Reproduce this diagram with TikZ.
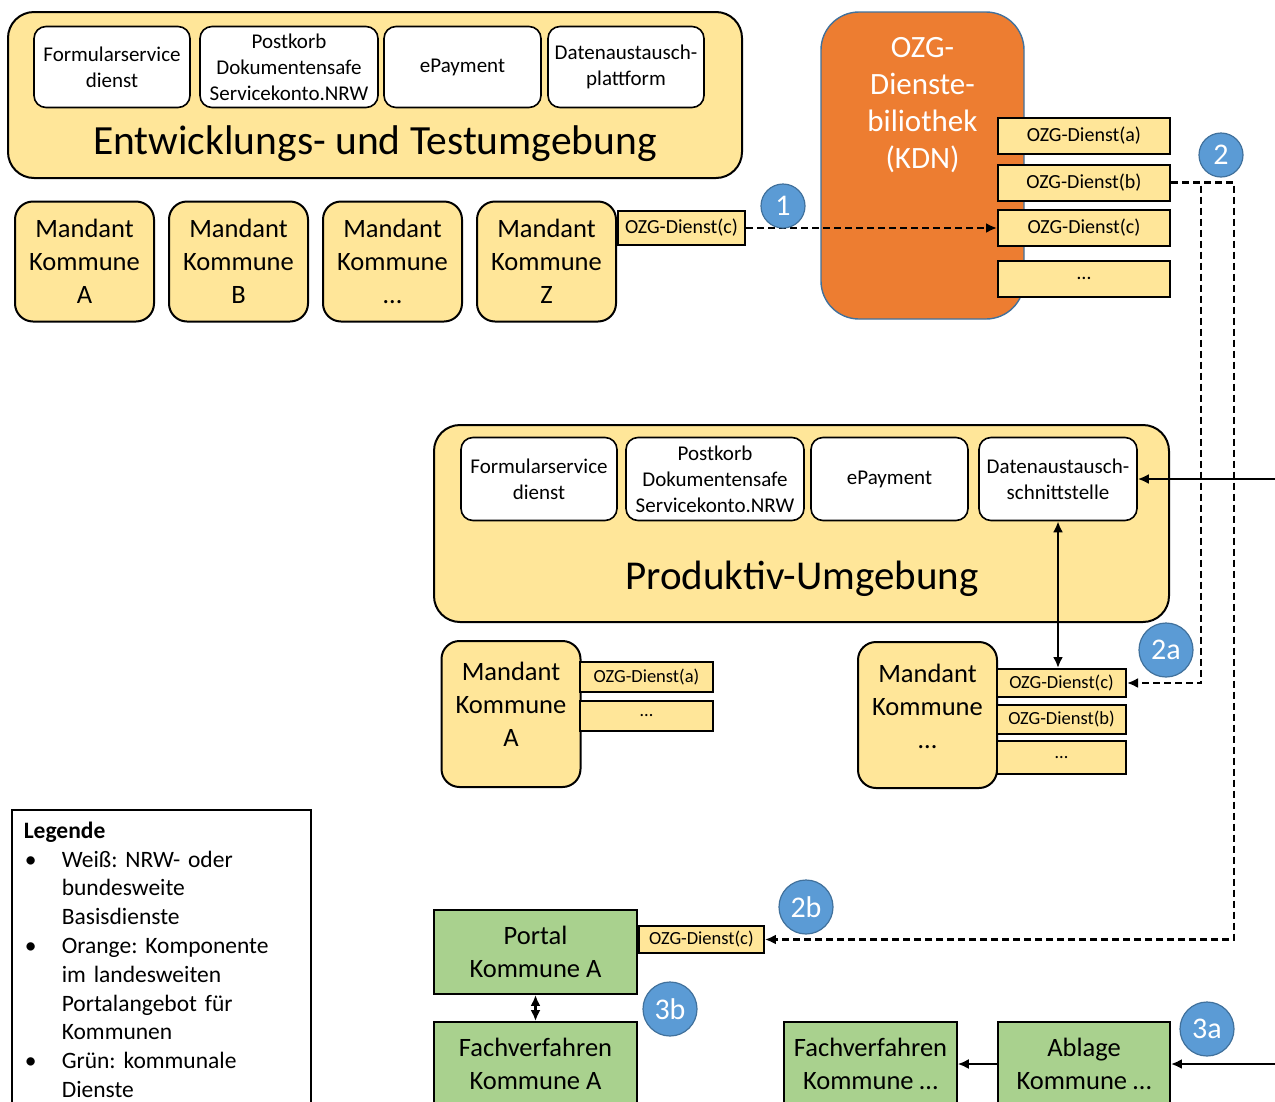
\documentclass[tikz,border=0pt]{standalone}
\usepackage{fontspec}
\setmainfont{Carlito}
\usepackage{tikz}
\usetikzlibrary{arrows.meta,positioning}
\definecolor{ozgyellow}{RGB}{255,230,153}
\definecolor{kdnorange}{RGB}{237,125,49}
\definecolor{kdnedge}{RGB}{65,113,156}
\definecolor{kommgreen}{RGB}{169,209,142}
\definecolor{stepblue}{RGB}{91,155,213}
\newcommand{\legitem}[1]{\makebox[38pt][l]{\hspace{1pt}\textbullet}#1}
\newcommand{\legcont}[1]{\hspace*{38pt}#1}
\tikzset{
  envbox/.style={draw=black, line width=2pt, rounded corners=26pt, fill=ozgyellow, inner sep=0pt},
  envtitle/.style={font=\fontsize{41.5}{48}\selectfont, inner sep=0pt, anchor=base},
  basisbox/.style={draw=black, line width=1.6pt, rounded corners=12pt, fill=white, align=center,
    inner sep=0pt, minimum height=81pt, font=\fontsize{21}{26}\selectfont},
  mandbox/.style={draw=black, line width=2pt, rounded corners=18pt, fill=ozgyellow, align=center,
    inner sep=0pt, minimum width=139pt, font=\fontsize{26.5}{33}\selectfont},
  mandtext/.style={align=center, inner sep=0pt, font=\fontsize{26.5}{33}\selectfont},
  dienstbox/.style={draw=black, line width=2pt, fill=ozgyellow, inner sep=0pt, font=\fontsize{20}{24}\selectfont},
  dienstsmall/.style={dienstbox, font=\fontsize{18.5}{22}\selectfont},
  kdnbox/.style={draw=kdnedge, line width=1.4pt, rounded corners=38pt, fill=kdnorange, inner sep=0pt},
  kommbox/.style={draw=black, line width=1.8pt, fill=kommgreen, align=center, inner sep=0pt,
    minimum height=84pt, font=\fontsize{26.5}{33}\selectfont},
  stepmark/.style={circle, fill=stepblue, draw=kdnedge, line width=1.2pt, text=white, inner sep=0pt,
    minimum size=44pt, font=\fontsize{30}{30}\selectfont},
  legendbox/.style={draw=black, line width=1.6pt, fill=white, align=left, inner xsep=12pt, inner ysep=12pt,
    text width=275pt, font=\fontsize{23.5}{28.8}\selectfont},
  flow/.style={-{Latex[length=11pt,width=10pt]}, line width=2.2pt},
  twoflow/.style={{Latex[length=11pt,width=10pt]}-{Latex[length=11pt,width=10pt]}, line width=2.2pt},
  dashedflow/.style={flow, dash pattern=on 7pt off 4pt}
}
\frenchspacing
\begin{document}
\begin{tikzpicture}[x=1pt, y=-1pt]
\useasboundingbox (0,0) rectangle (1275,1101);
\clip (0,0) rectangle (1275,1101);

\node[envbox, minimum width=734pt, minimum height=166pt] (dev) at (375,95) {};
\node[envtitle] (devtitle) at (375,154) {Entwicklungs- und Testumgebung};
\node[basisbox, minimum width=156pt] (devform) at (112,67) {Formularservice\\dienst};
\node[basisbox, minimum width=178pt] (devpost) at (289,67) {Postkorb\\Dokumentensafe\\Servicekonto.NRW};
\node[basisbox, minimum width=157pt] (devpay) at (462.5,67) {ePayment};
\node[basisbox, minimum width=156pt] (devdata) at (626,67) {Datenaustausch-\\plattform};

\node[mandbox, minimum height=120pt] (mandA) at (84.5,261.5) {Mandant\\Kommune\\A};
\node[mandbox, minimum height=120pt, right=13pt of mandA] (mandB) {Mandant\\Kommune\\B};
\node[mandbox, minimum height=120pt, right=13pt of mandB] (mandDots) {Mandant\\Kommune\\…};
\node[mandbox, minimum height=120pt, right=13pt of mandDots] (mandZ) {Mandant\\Kommune\\Z};
\node[dienstbox, minimum width=127pt, minimum height=34pt, anchor=west] (zdienstc) at (mandZ.east |- 0,228) {OZG-Dienst(c)};

\node[kdnbox, minimum width=203pt, minimum height=307pt] (kdn) at (922.5,165.5) {};
\node[text=white, align=center, inner sep=0pt, font=\fontsize{31}{37}\selectfont] (kdntext) at (922.5,105.5) {OZG-\\Dienste-\\biliothek\\(KDN)};
\node[dienstbox, minimum width=172pt, minimum height=36pt] (libA) at (1084,136) {OZG-Dienst(a)};
\node[dienstbox, minimum width=172pt, minimum height=36pt] (libB) at (1084,182.5) {OZG-Dienst(b)};
\node[dienstbox, minimum width=172pt, minimum height=36pt] (libC) at (1084,228) {OZG-Dienst(c)};
\node[dienstbox, minimum width=172pt, minimum height=36pt] (libDots) at (1084,278.5) {…};

\node[envbox, minimum width=735pt, minimum height=197pt] (prod) at (801.5,523.5) {};
\node[envtitle, font=\fontsize{41}{48}\selectfont] (prodtitle) at (802,589) {Produktiv-Umgebung};
\node[basisbox, minimum width=156pt, minimum height=83pt] (prodform) at (539,479) {Formularservice\\dienst};
\node[basisbox, minimum width=178pt, minimum height=83pt] (prodpost) at (715,479) {Postkorb\\Dokumentensafe\\Servicekonto.NRW};
\node[basisbox, minimum width=157pt, minimum height=83pt] (prodpay) at (889.5,479) {ePayment};
\node[basisbox, minimum width=158pt, minimum height=83pt] (proddata) at (1058,479) {Datenaustausch-\\schnittstelle};

\node[mandbox, minimum height=146pt] (kommA) at (511,714) {};
\node[mandtext] (kommAtext) at (511,704) {Mandant\\Kommune\\A};
\node[dienstsmall, minimum width=133pt, minimum height=30pt] (kdiensta) at (646.5,677) {OZG-Dienst(a)};
\node[dienstsmall, minimum width=133pt, minimum height=30pt] (kdotsA) at (646.5,716) {…};
\node[mandbox, minimum height=146pt] (kommX) at (927.5,715) {};
\node[mandtext] (kommXtext) at (927.5,706) {Mandant\\Kommune\\…};
\node[dienstsmall, minimum width=129pt, minimum height=28pt] (kdienstc) at (1061.5,683) {OZG-Dienst(c)};
\node[dienstsmall, minimum width=129pt, minimum height=29pt] (kdienstb) at (1061.5,719.5) {OZG-Dienst(b)};
\node[dienstsmall, minimum width=129pt, minimum height=33pt] (kdotsX) at (1061.5,757.5) {…};

\node[kommbox, minimum width=203pt] (portalA) at (535.5,952) {Portal\\Kommune A};
\node[dienstsmall, minimum width=125pt, minimum height=27pt, anchor=west] (pdienstc) at (portalA.east |- 0,939.5) {OZG-Dienst(c)};
\node[kommbox, minimum width=203pt] (fachA) at (535.5,1064) {Fachverfahren\\Kommune A};
\node[kommbox, minimum width=173pt] (fachX) at (870.5,1064) {Fachverfahren\\Kommune …};
\node[kommbox, minimum width=172pt] (ablageX) at (1084,1064) {Ablage\\Kommune …};

\node[legendbox, anchor=north west] (legend) at (11,809) {\textbf{Legende}\\
  \legitem{Weiß: NRW- oder}\\\legcont{bundesweite}\\\legcont{Basisdienste}\\
  \legitem{Orange: Komponente}\\\legcont{im landesweiten}\\\legcont{Portalangebot für}\\\legcont{Kommunen}\\
  \legitem{Grün: kommunale}\\\legcont{Dienste}};

\coordinate (trunkA) at (1201,683);
\coordinate (trunkB) at (1234,939.5);
\coordinate (feedData) at (1275,479);
\coordinate (feedAblage) at (1275,1064);

\draw[dashedflow] (zdienstc) -- (libC);
\draw[dashedflow] (libB.east) -| (trunkA) -- (kdienstc.east);
\draw[dashedflow] (libB.east) -| (trunkB) -- (pdienstc.east);
\draw[flow] (feedData) -- (proddata);
\draw[twoflow] (proddata.south) -- (proddata.south |- kdienstc.north);
\draw[twoflow] (portalA) -- (fachA);
\draw[flow] (feedAblage) -- (ablageX);
\draw[flow, line width=1.6pt] (ablageX) -- (fachX);

\node[stepmark] (step1) at (783,206) {1};
\node[stepmark] (step2) at (1221,155) {2};
\node[stepmark, minimum size=54pt] (step2a) at (1166,650) {2a};
\node[stepmark, minimum size=54pt] (step2b) at (806,907) {2b};
\node[stepmark, minimum size=54pt] (step3b) at (670,1009) {3b};
\node[stepmark, minimum size=54pt] (step3a) at (1207,1029) {3a};
\end{tikzpicture}
\end{document}
